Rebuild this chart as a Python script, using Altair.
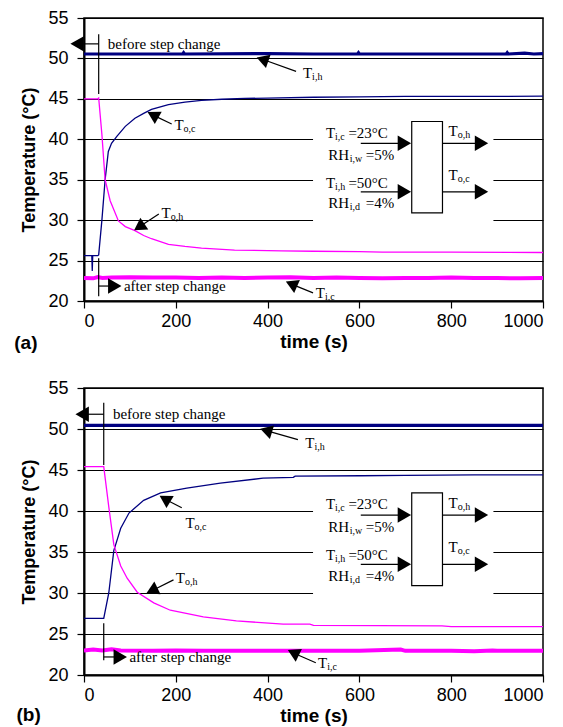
import altair as alt
import pandas as pd

NAVY = "#000080"
MAGENTA = "#FF00FF"

# ---------------- data ----------------
# Panel (a)
a_tih_t = [0, 200, 215, 217, 219, 400, 500, 596, 598, 600, 800, 920, 922, 924, 960, 980, 1000]
a_tih_v = [50.55, 50.55, 50.55, 50.7, 50.55, 50.6, 50.55, 50.55, 50.7, 50.55, 50.55, 50.55, 50.7, 50.55, 50.65, 50.55, 50.6]
a_toc_t = [0, 17, 18, 19, 30, 32, 39, 46, 53, 60, 72, 90, 111, 130, 147, 184, 220, 256, 300, 350, 400, 500, 600, 700, 800, 900, 1000]
a_toc_v = [25.6, 25.6, 23.7, 25.6, 25.6, 25.7, 30.0, 35.0, 38.5, 39.5, 40.4, 41.6, 42.6, 43.2, 43.7, 44.3, 44.6, 44.8, 44.95, 45.05, 45.1, 45.2, 45.25, 45.3, 45.3, 45.3, 45.35]
a_toh_t = [0, 30, 32, 39, 46, 57, 75, 90, 111, 130, 147, 184, 220, 256, 328, 430, 500, 600, 650, 800, 1000]
a_toh_v = [45.0, 45.0, 45.1, 40.6, 35.0, 32.4, 29.9, 29.2, 28.7, 28.1, 27.7, 27.0, 26.75, 26.55, 26.3, 26.2, 26.15, 26.1, 26.05, 26.05, 26.0]
a_tic_t = [0, 20, 30, 40, 60, 100, 150, 200, 250, 300, 350, 400, 450, 500, 550, 600, 650, 700, 750, 800, 850, 900, 950, 1000]
a_tic_v = [22.85, 22.8, 22.95, 22.85, 22.9, 22.95, 22.9, 22.9, 22.85, 22.9, 22.85, 22.9, 22.95, 22.85, 22.9, 22.85, 22.8, 22.85, 22.85, 22.9, 22.85, 22.85, 22.8, 22.85]

# Panel (b)
b_tih_t = [0, 200, 400, 600, 800, 1000]
b_tih_v = [50.45, 50.45, 50.45, 50.45, 50.45, 50.45]
b_toc_t = [0, 43, 54, 65, 69, 80, 98, 130, 167, 224, 297, 390, 456, 460, 603, 700, 850, 1000]
b_toc_v = [26.9, 26.9, 30.0, 35.2, 35.9, 37.9, 39.75, 41.3, 42.2, 42.8, 43.4, 44.0, 44.1, 44.25, 44.3, 44.35, 44.4, 44.4]
b_toh_t = [0, 43, 54, 65, 69, 80, 94, 116, 152, 188, 260, 332, 434, 492, 500, 780, 800, 1000]
b_toh_v = [45.4, 45.4, 40.5, 35.9, 35.2, 33.3, 31.8, 30.1, 28.8, 27.9, 27.1, 26.6, 26.2, 26.2, 26.05, 26.0, 25.9, 25.9]
b_tic_t = [0, 20, 40, 60, 80, 150, 200, 260, 300, 400, 500, 600, 690, 700, 800, 850, 890, 900, 1000]
b_tic_v = [23.0, 23.1, 23.0, 23.15, 23.0, 22.95, 23.0, 22.95, 22.95, 22.95, 22.95, 22.95, 23.1, 22.95, 22.95, 22.9, 23.0, 22.95, 22.95]

x_ticks = [0, 200, 400, 600, 800, 1000]
y_ticks = [20, 25, 30, 35, 40, 45, 50, 55]

step_time = {"a": 32, "b": 43}

# ---------------- helpers ----------------
X_SCALE = alt.Scale(domain=[0, 1000], nice=False, zero=False)
Y_SCALE = alt.Scale(domain=[20, 55], nice=False, zero=False)


def X(field="time"):
    return alt.X(f"{field}:Q", scale=X_SCALE,
                 axis=alt.Axis(values=x_ticks, title="time (s)", grid=False, format="d"))


def Y(field="temp"):
    return alt.Y(f"{field}:Q", scale=Y_SCALE,
                 axis=alt.Axis(values=y_ticks, title="Temperature (°C)", grid=True, format="d"))


def lines_df(series):
    rows = []
    for name, ts, vs, color, sw in series:
        for i, (t, v) in enumerate(zip(ts, vs)):
            rows.append(dict(series=name, time=t, temp=v, col=color, sw=sw, idx=i))
    return pd.DataFrame(rows)


def panel(p):
    if p == "a":
        series = [("Ti,h", a_tih_t, a_tih_v, NAVY, 3.2),
                  ("To,c", a_toc_t, a_toc_v, NAVY, 1.3),
                  ("To,h", a_toh_t, a_toh_v, MAGENTA, 1.3),
                  ("Ti,c", a_tic_t, a_tic_v, MAGENTA, 4.0)]
        lab = {"tih": (477, 48.2), "toc": (197, 41.8), "toh": (169, 30.9), "tic": (505, 21.0)}
        arr = [  # tail -> head
            (462, 48.4, 393, 49.8, 289), (191, 41.9, 154, 42.9, 299),
            (163, 30.75, 124, 29.3, 236), (499, 21.0, 456, 22.0, 294)]
        before_y, after_y = 51.8, 21.85
        vtop, vbot = (45.6, 53.0), (20.6, 25.3)
        left_head, right_head = -15, 67
        tag, tag_t, tag_y = "(a)", -152, 14.8
    else:
        series = [("Ti,h", b_tih_t, b_tih_v, NAVY, 3.2),
                  ("To,c", b_toc_t, b_toc_v, NAVY, 1.3),
                  ("To,h", b_toh_t, b_toh_v, MAGENTA, 1.3),
                  ("Ti,c", b_tic_t, b_tic_v, MAGENTA, 4.0)]
        lab = {"tih": (482, 48.3), "toc": (221, 38.5), "toh": (200, 31.8), "tic": (510, 21.5)}
        arr = [
            (466, 48.7, 401, 49.75, 287), (213, 40.4, 180, 41.35, 301),
            (195, 31.6, 152, 30.4, 244), (505, 21.5, 460, 22.6, 296)]
        before_y, after_y = 51.8, 22.2
        vtop, vbot = (45.6, 53.2), (21.8, 26.3)
        left_head, right_head = -4, 79
        tag, tag_t, tag_y = "(b)", -147, 15.1
    st = step_time[p]

    ldf = lines_df(series)
    lines = alt.Chart(ldf).mark_line(clip=True).encode(
        x=X(), y=Y(),
        color=alt.Color("col:N", scale=None, legend=None),
        strokeWidth=alt.StrokeWidth("sw:Q", scale=None, legend=None),
        detail="series:N",
        order=alt.Order("idx:Q"),
    )

    # inset: white background and box
    rects = pd.DataFrame([
        dict(time=499, time2=892, temp=29.6, temp2=43.7, fill="white", stroke="white", w=0),
        dict(time=714, time2=781, temp=30.9, temp2=42.2, fill="white", stroke="black", w=1.2),
    ])
    rect = alt.Chart(rects).mark_rect().encode(
        x=X(), x2="time2:Q", y=Y(), y2="temp2:Q",
        fill=alt.Fill("fill:N", scale=None),
        stroke=alt.Stroke("stroke:N", scale=None),
        strokeWidth=alt.StrokeWidth("w:Q", scale=None),
    )

    # segments
    segs = [
        (st, vtop[0], st, vtop[1]),
        (st, before_y, left_head + 8, before_y),
        (st, vbot[0], st, vbot[1]),
        (st, after_y, right_head - 8, after_y),
        (603, 39.5, 690, 39.5),
        (781, 39.5, 858, 39.5),
        (603, 33.5, 690, 33.5),
        (781, 33.5, 858, 33.5),
    ] + [(a[0], a[1], a[2], a[3]) for a in arr]
    sdf = pd.DataFrame([dict(time=s[0], temp=s[1], time2=s[2], temp2=s[3]) for s in segs])
    rules = alt.Chart(sdf).mark_rule(color="black", strokeWidth=1.2).encode(
        x=X(), y=Y(), x2="time2:Q", y2="temp2:Q")

    heads = [
        (left_head, before_y, "triangle-left", 0, 240),
        (right_head, after_y, "triangle-right", 0, 240),
        (698, 39.5, "triangle-right", 0, 240),
        (866, 39.5, "triangle-right", 0, 240),
        (698, 33.5, "triangle-right", 0, 240),
        (866, 33.5, "triangle-right", 0, 240),
    ] + [(a[2], a[3], "triangle", a[4], 200) for a in arr]
    hdf = pd.DataFrame([dict(time=h[0], temp=h[1], shape=h[2], ang=h[3], sz=h[4]) for h in heads])
    points = alt.Chart(hdf).mark_point(filled=True, color="black", opacity=1).encode(
        x=X(), y=Y(),
        shape=alt.Shape("shape:N", scale=None, legend=None),
        angle=alt.Angle("ang:Q", scale=None),
        size=alt.Size("sz:Q", scale=None, legend=None),
    )

    # serif texts (main) and subscripts
    main = [
        ("before step change", st + 20, before_y),
        ("after step change", right_head + 20, after_y),
        ("T", lab["tih"][0], lab["tih"][1]),
        ("T", lab["toc"][0], lab["toc"][1]),
        ("T", lab["toh"][0], lab["toh"][1]),
        ("T", lab["tic"][0], lab["tic"][1]),
        ("T", 527, 40.8), ("=23°C", 576, 40.8),
        ("RH", 532, 38.1), ("=5%", 614, 38.1),
        ("T", 794, 41.0),
        ("T", 527, 34.6), ("=50°C", 576, 34.6),
        ("RH", 532, 32.1), ("=4%", 614, 32.1),
        ("T", 794, 35.6),
    ]
    sub = [
        ("i,h", lab["tih"][0] + 20, lab["tih"][1]),
        ("o,c", lab["toc"][0] + 20, lab["toc"][1]),
        ("o,h", lab["toh"][0] + 20, lab["toh"][1]),
        ("i,c", lab["tic"][0] + 20, lab["tic"][1]),
        ("i,c", 547, 40.8),
        ("i,w", 579, 38.1),
        ("o,h", 814, 41.0),
        ("i,h", 547, 34.6),
        ("i,d", 579, 32.1),
        ("o,c", 814, 35.6),
    ]
    mdf = pd.DataFrame([dict(text=m[0], time=m[1], temp=m[2]) for m in main])
    subdf = pd.DataFrame([dict(text=m[0], time=m[1], temp=m[2]) for m in sub])
    mtext = alt.Chart(mdf).mark_text(font="Liberation Serif", fontSize=15, align="left",
                                      baseline="middle", color="black").encode(
        x=X(), y=Y(), text="text:N")
    stext = alt.Chart(subdf).mark_text(font="Liberation Serif", fontSize=10, align="left",
                                        baseline="middle", dy=4, color="black").encode(
        x=X(), y=Y(), text="text:N")

    tdf = pd.DataFrame([dict(text=tag, time=tag_t, temp=tag_y)])
    tagtext = alt.Chart(tdf).mark_text(font="Liberation Sans", fontSize=19, fontWeight="bold",
                                        align="left", baseline="middle", color="black").encode(
        x=X(), y=Y(), text="text:N")

    h = 283 if p == "a" else 287
    return alt.layer(rect, lines, rules, points, mtext, stext, tagtext).properties(width=459, height=h)


chart = alt.vconcat(panel("a"), panel("b"), spacing=24).properties(
    padding={"left": 5, "top": 0, "right": 0, "bottom": 0}
).configure_view(
    stroke="black", strokeWidth=1.5
).configure_axis(
    domainColor="black", domainWidth=2, tickColor="black", tickWidth=1.2, tickSize=7,
    labelFont="Liberation Sans", labelFontSize=18, labelColor="black",
    titleFont="Liberation Sans", titleFontSize=18, titleFontWeight="bold", titleColor="black",
    gridColor="black", gridWidth=1, gridOpacity=1,
).configure_axisX(
    labelPadding=4, titlePadding=2, titleFontSize=19
).configure_axisY(
    labelPadding=9, titlePadding=9
)

chart.save("out.html", embed_options={"renderer": "svg", "actions": False})
